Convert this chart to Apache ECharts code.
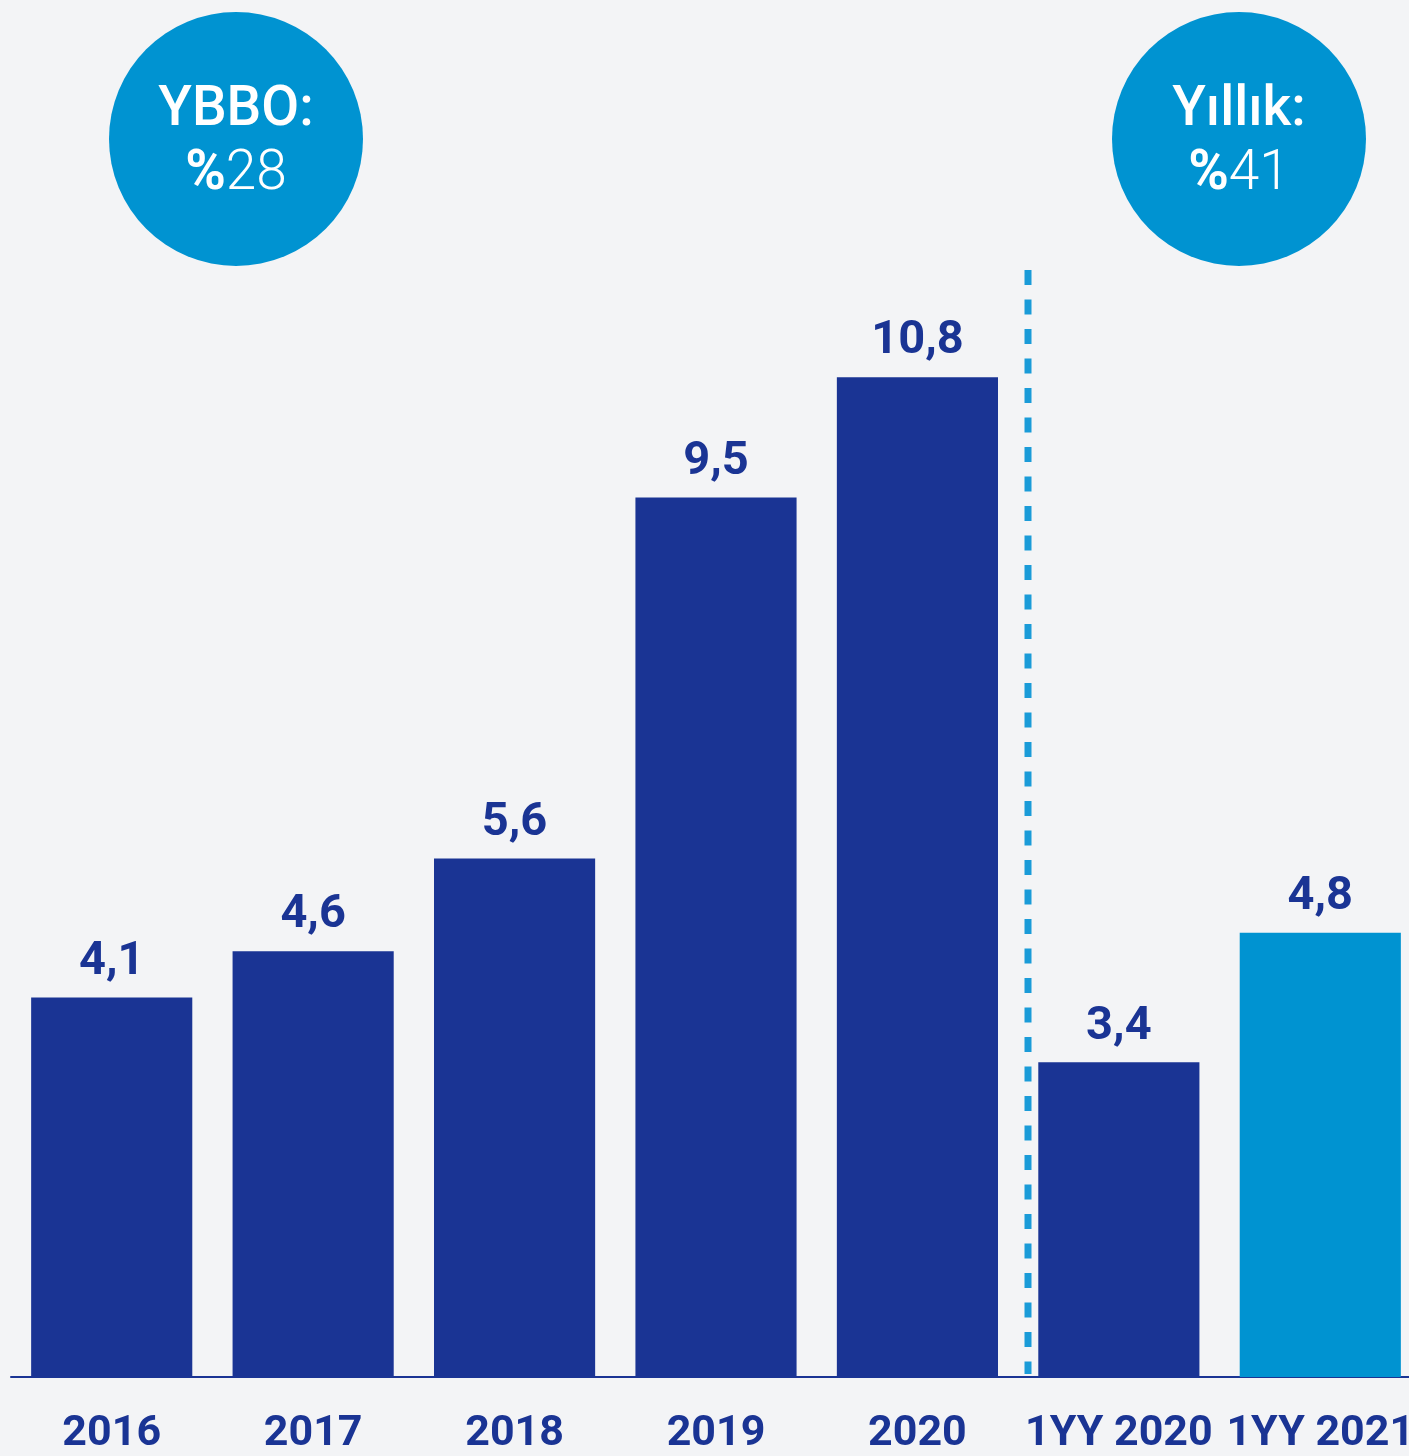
<!DOCTYPE html>
<html>
<head>
<meta charset="utf-8">
<script src="https://cdn.jsdelivr.net/npm/echarts@6/dist/echarts.min.js"></script>
<style>
html,body{margin:0;padding:0;background:#f3f4f6;overflow:hidden;}
#chart{width:1421px;height:1456px;}
</style>
</head>
<body>
<div id="chart"></div>
<script>
const categories = ['2016', '2017', '2018', '2019', '2020', '1YY 2020', '1YY 2021'];
const values = [4.1, 4.6, 5.6, 9.5, 10.8, 3.4, 4.8];
const leftBadgeTitle = 'YBBO:';
const leftBadgeValue = '28';
const rightBadgeTitle = 'Yıllık:';
const rightBadgeValue = '41';

const DARK = '#1a3494';
const LIGHT = '#0093d1';
const FONT = 'Roboto';

const chart = echarts.init(document.getElementById('chart'), null, {renderer: 'canvas'});

function badge(cx, title, val) {
  return {
    type: 'group',
    children: [
      {type: 'circle', shape: {cx: cx, cy: 139, r: 127}, style: {fill: LIGHT}},
      {type: 'text', x: cx, y: 111, style: {text: title, fill: '#fff', font: '500 55px Roboto', align: 'center', verticalAlign: 'middle'}},
      {type: 'text', x: cx, y: 175, style: {
        text: '{b|%}{l|' + val + '}', align: 'center', verticalAlign: 'middle',
        rich: {
          b: {fontFamily: FONT, fontWeight: 'bold', fontSize: 55, fill: '#fff', color: '#fff'},
          l: {fontFamily: FONT, fontWeight: 300, fontSize: 55, fill: '#fff', color: '#fff'}
        }
      }}
    ]
  };
}

chart.setOption({
  backgroundColor: '#f3f4f6',
  animation: false,
  grid: {left: 11, right: 0, top: 81, bottom: 77, containLabel: false},
  xAxis: {
    type: 'category',
    data: categories,
    axisLine: {show: true, lineStyle: {color: DARK, width: 2}},
    axisTick: {show: false},
    axisLabel: {color: DARK, fontFamily: FONT, fontWeight: 'bold', fontSize: 43, margin: 36, interval: 0}
  },
  yAxis: {
    type: 'value', min: 0, max: 14, show: false,
    splitLine: {show: false}
  },
  series: [{
    type: 'bar',
    data: values,
    barWidth: '80%',
    itemStyle: {
      color: function (p) { return p.dataIndex === values.length - 1 ? LIGHT : DARK; }
    },
    label: {
      show: true, position: 'top', distance: 12,
      color: DARK, fontFamily: FONT, fontWeight: 'bold', fontSize: 47,
      formatter: function (p) { return String(p.value).replace('.', ','); }
    }
  }],
  graphic: [
    {type: 'line', shape: {x1: 1028, y1: 270, x2: 1028, y2: 1374}, style: {stroke: '#1a9bd8', lineWidth: 7, lineDash: [15, 14.5]}},
    badge(236, leftBadgeTitle, leftBadgeValue),
    badge(1239, rightBadgeTitle, rightBadgeValue)
  ]
});
</script>
</body>
</html>
